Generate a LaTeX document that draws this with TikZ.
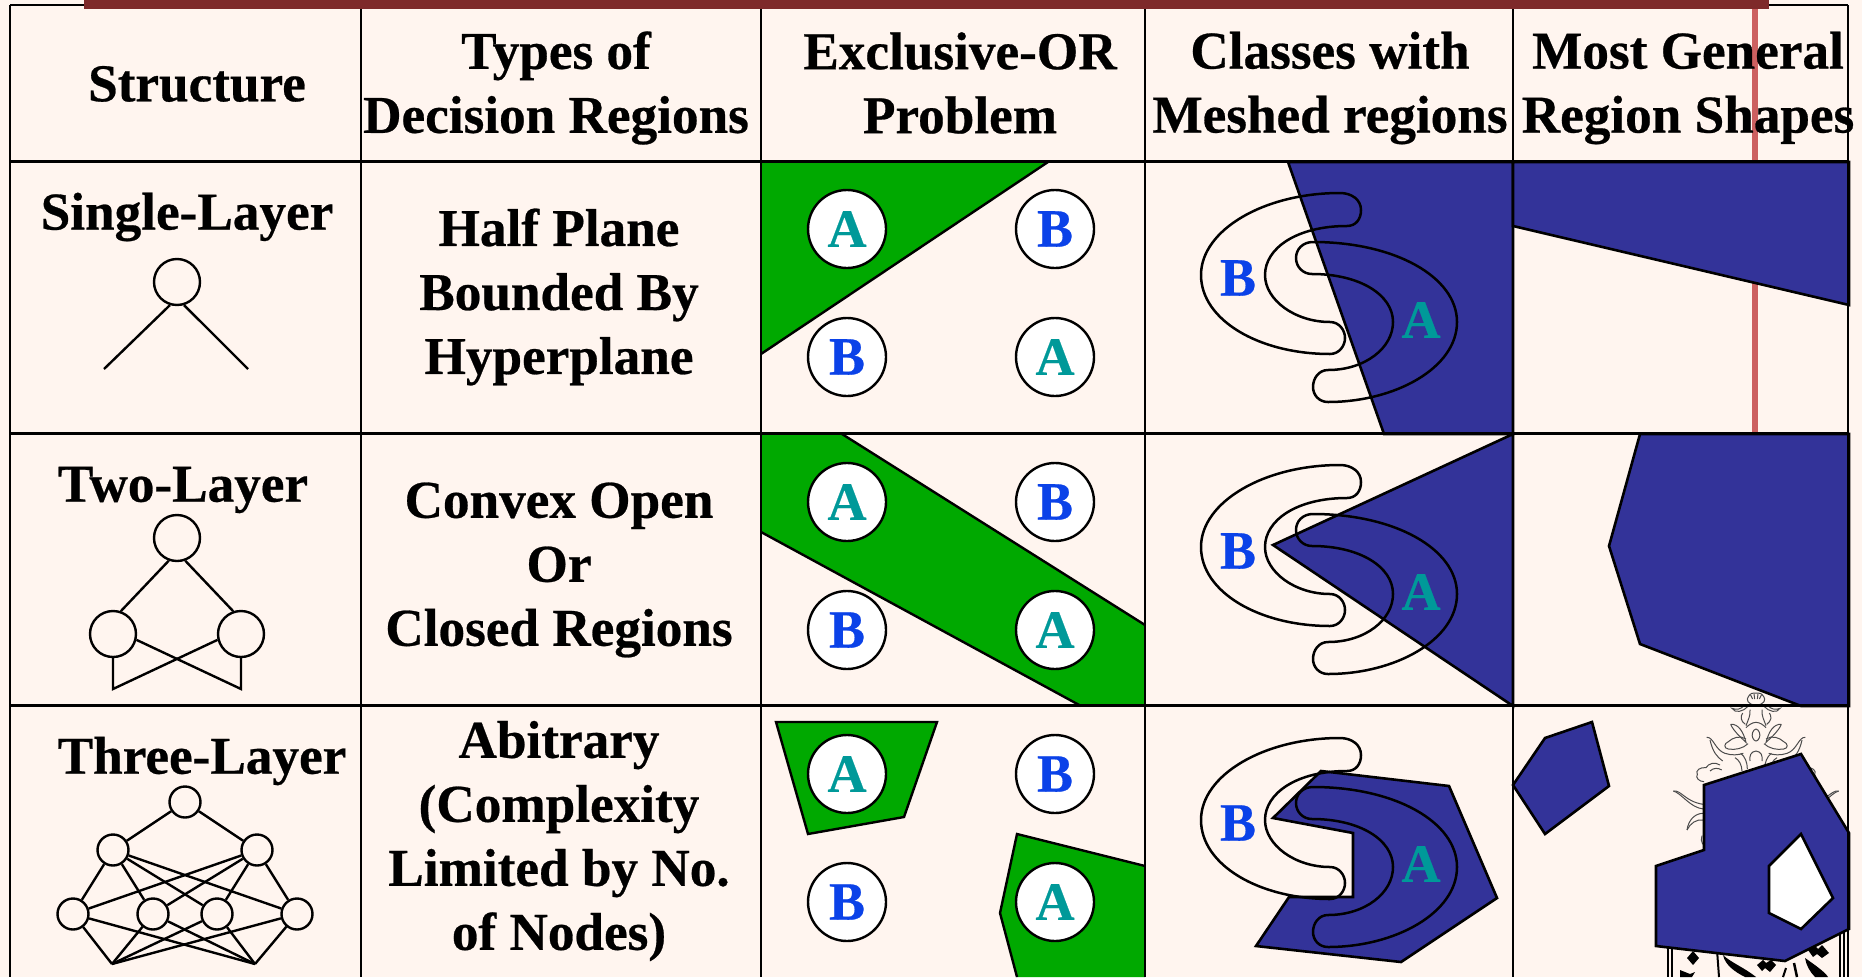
\documentclass[tikz,border=0pt]{standalone}
\usepackage{fontspec}
\setmainfont{Liberation Serif}[BoldFeatures={FakeBold=0.5}]
\definecolor{paper}{HTML}{FFF5EF}
\definecolor{regionblue}{HTML}{333399}
\definecolor{regiongreen}{HTML}{00A900}
\definecolor{letterA}{HTML}{009999}
\definecolor{letterB}{HTML}{0B42E8}
\definecolor{topbar}{HTML}{7E2A2A}
\definecolor{sidebar}{HTML}{CC6060}
\tikzset{
  x=1pt,y=-1pt,
  grid/.style={draw=black,line width=2.5pt},
  head/.style={font=\fontsize{53.2}{64}\selectfont\bfseries,align=center,text=black,inner sep=0pt},
  blue region/.style={fill=regionblue,draw=black,line width=2.6pt,line join=miter},
  green region/.style={fill=regiongreen,draw=black,line width=2.4pt},
  xor/.style={circle,draw=black,fill=white,line width=2.4pt,minimum size=78pt,inner sep=0pt,font=\fontsize{54}{54}\selectfont\bfseries},
  lab/.style={font=\fontsize{54}{54}\selectfont\bfseries,inner sep=0pt},
  unit/.style={circle,draw=black,line width=2.4pt,inner sep=0pt},
  wire/.style={draw=black,line width=2.4pt},
  meshline/.style={draw=black,line width=2.5pt},
  filigree/.style={draw=black!70,line width=1pt}
}
% The interlocking class outlines; the argument is the shift of the row
\newcommand{\meshed}[1]{%
  \begin{scope}[yshift=-#1pt]
    \draw[meshline] (1340,193)
      .. controls (1264,193) and (1201,230) .. (1201,275)
      .. controls (1201,320) and (1259,354) .. (1330,354)
      .. controls (1339,354) and (1345,346) .. (1345,338)
      .. controls (1345,330) and (1339,322) .. (1330,322)
      .. controls (1295,322) and (1265,300) .. (1265,275)
      .. controls (1265,248) and (1297,226) .. (1347,226)
      .. controls (1356,226) and (1361,219) .. (1361,210)
      .. controls (1361,200) and (1352,193) .. (1340,193)
      -- cycle;
    \draw[meshline] (1313,242)
      .. controls (1395,242) and (1457,277) .. (1457,322)
      .. controls (1457,368) and (1395,402) .. (1328,402)
      .. controls (1319,402) and (1313,395) .. (1313,387)
      .. controls (1313,378) and (1319,370) .. (1328,370)
      .. controls (1365,370) and (1393,348) .. (1393,322)
      .. controls (1393,295) and (1360,274) .. (1312,274)
      .. controls (1303,274) and (1296,267) .. (1296,258)
      .. controls (1296,249) and (1303,242) .. (1313,242)
      -- cycle;
  \end{scope}}
% Letters and circles of the exclusive-OR cell
\newcommand{\xorcell}[2]{%
  \node[xor,text=letterA] (#1a) at (847,#2) {A};
  \node[xor,text=letterB] (#1b) at (1055,#2) {B};
  \node[xor,text=letterB] (#1c) at (847,#2+128) {B};
  \node[xor,text=letterA] (#1d) at (1055,#2+128) {A};}
% One half of the floral ornament, in units of a third of a point
\newcommand{\floralhalf}{%
  \draw[filigree] (288,60) .. controls (262,60) and (258,42) .. (265,35) .. controls (270,25) and (280,22) .. (288,24);
  \draw[filigree] (272,30) -- (278,42) (282,26) -- (284,42);
  \draw[filigree] (264,64) .. controls (250,80) and (225,86) .. (216,70) .. controls (230,76) and (242,72) .. (250,64);
  \draw[filigree] (270,74) .. controls (272,92) and (264,105) .. (258,122);
  \draw[filigree] (248,84) .. controls (240,95) and (242,108) .. (256,118);
  \draw[filigree] (212,118) .. controls (235,116) and (250,140) .. (258,172) .. controls (240,155) and (222,140) .. (212,118);
  \draw[filigree] (288,132) .. controls (278,134) and (274,150) .. (278,158) .. controls (282,168) and (288,168) .. (288,168);
  \draw[filigree] (258,162) .. controls (240,150) and (218,158) .. (205,170) .. controls (192,175) and (190,190) .. (205,192) .. controls (225,196) and (250,190) .. (264,176);
  \draw[filigree] (288,112) .. controls (275,112) and (264,122) .. (258,128);
  \draw[filigree] (140,157) .. controls (160,155) and (165,195) .. (195,205) .. controls (215,212) and (235,210) .. (250,205);
  \draw[filigree] (150,165) .. controls (158,200) and (170,215) .. (188,228);
  \draw[filigree] (288,198) .. controls (272,200) and (268,212) .. (270,228);
  \draw[filigree] (242,205) .. controls (255,215) and (262,232) .. (262,252);
  \draw[filigree] (225,218) .. controls (238,225) and (245,240) .. (246,258);
  \draw[filigree] (180,240) .. controls (165,230) and (145,235) .. (138,248) .. controls (120,245) and (105,258) .. (112,268) .. controls (105,278) and (118,290) .. (132,290);
  \draw[filigree] (150,258) .. controls (160,248) and (175,248) .. (185,255);
  \draw[filigree] (40,318) .. controls (65,315) and (75,350) .. (130,358);
  \draw[filigree] (40,318) .. controls (65,325) and (90,368) .. (130,372);
  \draw[filigree] (81,435) .. controls (85,405) and (105,385) .. (129,385);
  \draw[filigree] (81,435) .. controls (90,415) and (110,402) .. (129,405);
  \draw[filigree] (126,452) .. controls (122,460) and (124,470) .. (128,478);}
\begin{document}
\begin{tikzpicture}
\useasboundingbox (0,0) rectangle (1862,977);
\fill[paper] (0,0) rectangle (1862,977);

% stripe behind the table at the right
\fill[sidebar] (1752,0) rectangle (1758,434);

% floral ornament rising from behind the last region
\begin{scope}[shift={(1660,685)},x=0.3333pt,y=-0.3333pt]
  \floralhalf
  \begin{scope}[xshift=192pt,x=-0.3333pt]
    \floralhalf
  \end{scope}
\end{scope}

% calligraphy showing below the last region
\draw[line width=1.2pt] (1668,940) -- (1668,977) (1672,940) -- (1672,977);
\draw[line width=1.2pt] (1840,930) -- (1840,977) (1844,930) -- (1844,977);
\fill (1693,951) -- (1699,958) -- (1693,965) -- (1687,958) -- cycle;
\fill (1680,970) -- (1690,974) -- (1695,972) -- (1692,977) -- (1680,977) -- cycle;
\draw[line width=2pt] (1717,950) -- (1719,977);
\fill (1723,955) .. controls (1730,962) and (1745,968) .. (1756,977) -- (1745,977) .. controls (1735,972) and (1725,965) .. (1723,955) -- cycle;
\fill (1757,965) -- (1763,960) -- (1766,963) -- (1771,960) -- (1776,965) -- (1770,972) -- (1765,968) -- (1762,971) -- cycle;
\draw[line width=2.5pt] (1794,963) -- (1797,977);
\draw[line width=2pt] (1783,977) -- (1786,968);
\fill (1808,950) -- (1814,945) -- (1818,949) -- (1822,945) -- (1829,953) -- (1822,958) -- (1817,954) -- (1813,957) -- cycle;
\fill (1805,958) .. controls (1815,965) and (1825,972) .. (1828,977) -- (1815,977) .. controls (1810,972) and (1806,965) .. (1805,958) -- cycle;

% column 3: decision regions for exclusive-OR
\fill[regiongreen] (761,162) -- (1048,162) -- (761,354) -- cycle;
\draw[line width=2.4pt] (1048,162) -- (761,354);
\fill[regiongreen] (761,434) -- (842,434) -- (1145,625) -- (1145,706) -- (1081,706) -- (761,532) -- cycle;
\draw[line width=2.4pt] (842,434) -- (1145,625);
\draw[line width=2.4pt] (1081,706) -- (761,532);
\path[green region] (776,722) -- (937,722) -- (904,817) -- (808,834) -- cycle;
\fill[regiongreen] (1017,834) -- (1145,866) -- (1145,977) -- (1017,977) -- (1000,913) -- cycle;
\draw[line width=2.4pt] (1145,866) -- (1017,834) -- (1000,913) -- (1017,977);
\xorcell{r}{229}
\xorcell{s}{502}
\xorcell{t}{774}

% column 4: meshed classes
\path[blue region] (1288,162) -- (1513,162) -- (1513,434) -- (1384,434) -- cycle;
\path[blue region] (1513,434) -- (1513,706) -- (1273,545) -- cycle;
\path[blue region] (1321,771) -- (1449,786) -- (1497,898) -- (1401,962) -- (1256,946) -- (1289,897) -- (1353,897) -- (1353,833) -- (1273,818) -- cycle;
\meshed{0}
\meshed{272}
\meshed{545}
\node[lab,text=letterB] (b1) at (1238,278) {B};
\node[lab,text=letterA] (a1) at (1421,320) {A};
\node[lab,text=letterB] (b2) at (1238,551) {B};
\node[lab,text=letterA] (a2) at (1421,592) {A};
\node[lab,text=letterB] (b3) at (1238,823) {B};
\node[lab,text=letterA] (a3) at (1421,864) {A};

% column 5: most general regions
\path[blue region] (1513,162) -- (1849,162) -- (1849,305) -- (1513,226) -- cycle;
\path[blue region] (1640,434) -- (1849,434) -- (1849,706) -- (1801,706) -- (1640,644) -- (1609,546) -- cycle;
\path[blue region] (1513,785) -- (1545,738) -- (1592,722) -- (1609,786) -- (1545,834) -- cycle;
\path[blue region] (1704,785) -- (1801,754) -- (1849,833) -- (1849,929) -- (1785,961) -- (1656,946) -- (1656,866) -- (1704,850) -- cycle;
\filldraw[fill=white,draw=black,line width=2.6pt] (1769,866) -- (1801,834) -- (1833,898) -- (1801,929) -- (1769,913) -- cycle;

% table rules
\draw[grid] (10,5) -- (1848,5);
\draw[grid] (10,5) -- (10,977);
\draw[grid] (361,5) -- (361,977);
\draw[grid] (761,5) -- (761,977);
\draw[grid] (1145,5) -- (1145,977);
\draw[grid] (1513,5) -- (1513,977);
\draw[grid] (1848,5) -- (1848,977);
\draw[grid] (10,161.7) -- (1848,161.7);
\draw[grid] (10,433.7) -- (1848,433.7);
\draw[grid] (10,705.7) -- (1848,705.7);

% bar across the top
\fill[topbar] (84,0) rectangle (1769,9);

% headings
\node[head] (h1) at (197,84) {Structure};
\node[head] (h2) at (556,88) {Types of\\Decision Regions};
\node[head] (h3) at (960,83) {Exclusive-OR\\Problem};
\node[head] (h4) at (1330,88) {Classes with\\Meshed regions};
\node[head] (h5) at (1688,88) {Most General\\Region Shapes};

% row labels
\node[head] (l1) at (187,217) {Single-Layer};
\node[head] (l2) at (183,490) {Two-Layer};
\node[head] (l3) at (202,761) {Three-Layer};

% column 2 descriptions
\node[head] (d1) at (559,297) {Half Plane\\Bounded By\\Hyperplane};
\node[head] (d2) at (559,570) {Convex Open\\Or\\Closed Regions};
\node[head] (d3) at (559,841) {Abitrary\\(Complexity\\Limited by No.\\of Nodes)};

% single-layer perceptron
\node[unit,minimum size=46pt] (p1) at (177,282) {};
\coordinate (p1l) at (104,369);
\coordinate (p1r) at (248,369);
\draw[wire] (p1.253) -- (p1l);
\draw[wire] (p1.287) -- (p1r);

% two-layer perceptron
\node[unit,minimum size=46pt] (q0) at (177,538) {};
\node[unit,minimum size=46pt] (q1) at (113,634) {};
\node[unit,minimum size=46pt] (q2) at (241,634) {};
\coordinate (qa) at (113,689);
\coordinate (qb) at (241,689);
\draw[wire] (q0.250) -- (q1.71);
\draw[wire] (q0.290) -- (q2.109);
\draw[wire] (q1.south) -- (qa) -- (q2.194);
\draw[wire] (q2.south) -- (qb) -- (q1.-14);

% three-layer perceptron
\node[unit,minimum size=31pt] (w0) at (185,802) {};
\node[unit,minimum size=31pt] (w1) at (113,850) {};
\node[unit,minimum size=31pt] (w2) at (257,850) {};
\node[unit,minimum size=31pt] (n1) at (73,914) {};
\node[unit,minimum size=31pt] (n2) at (153,914) {};
\node[unit,minimum size=31pt] (n3) at (217,914) {};
\node[unit,minimum size=31pt] (n4) at (297,914) {};
\coordinate (ba) at (112,964);
\coordinate (bb) at (255,964);
\draw[wire] (w0) -- (w1);
\draw[wire] (w0) -- (w2);
\foreach \m in {n1,n2,n3,n4}{
  \draw[wire] (w1) -- (\m);
  \draw[wire] (w2) -- (\m);
  \draw[wire] (\m) -- (ba);
  \draw[wire] (\m) -- (bb);
}
\end{tikzpicture}
\end{document}
